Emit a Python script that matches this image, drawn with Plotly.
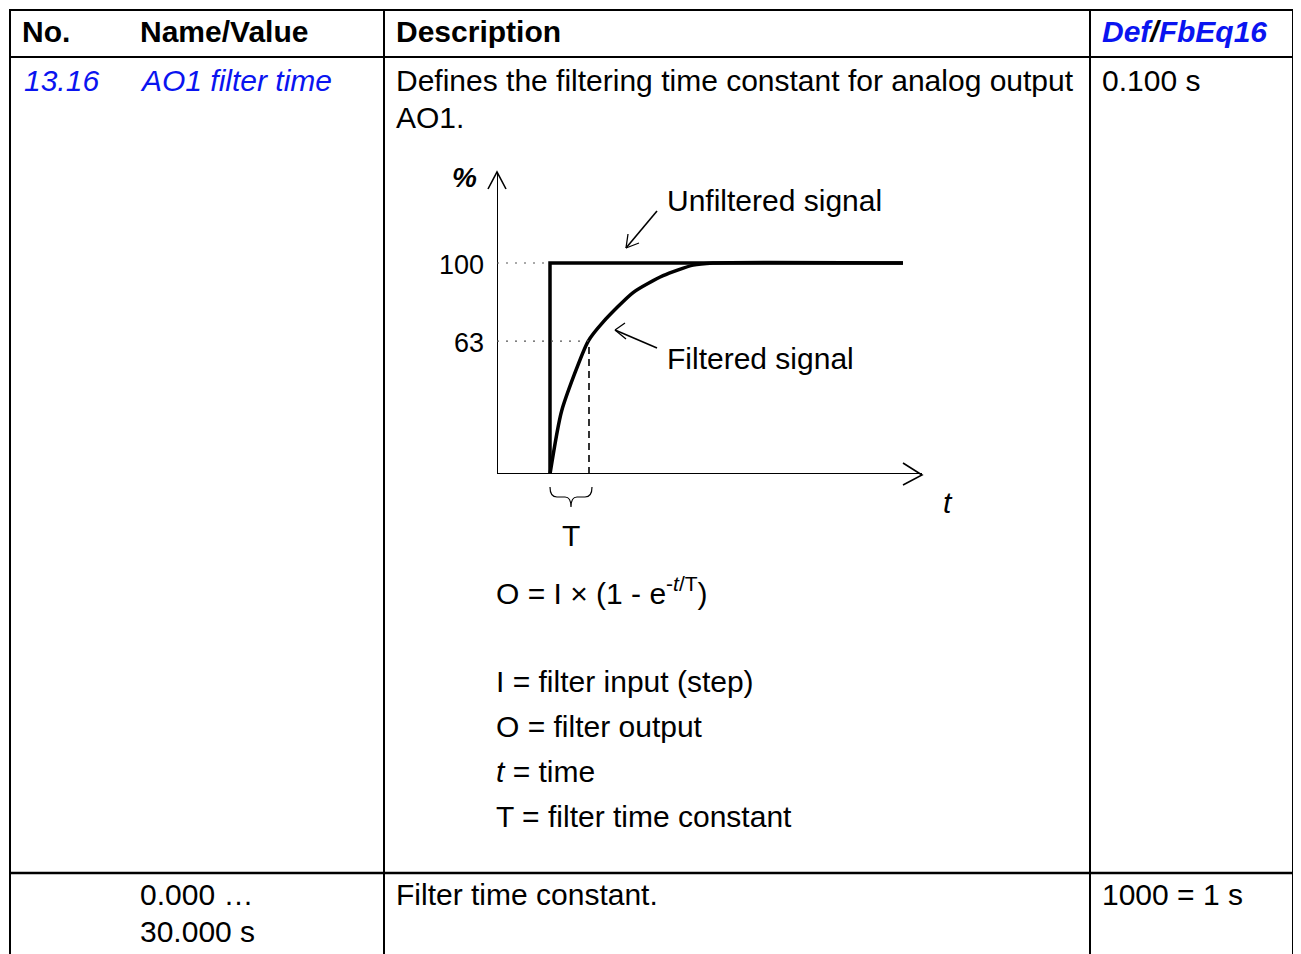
import plotly.graph_objects as go

W, H = 1301, 954
OFF = 8                     # page body margin
FW, FH = W - OFF, H - OFF   # figure size
FONT = "Liberation Sans, Arial, sans-serif"
BLUE = "#0A14F0"
FS = 30

# ---- table content ----
header_labels = ["No.", "Name/Value", "Description"]
header_x = [22, 140, 396]
param_no = "13.16"
param_name = "AO1 filter time"
desc_lines = ["Defines the filtering time constant for analog output", "AO1."]
default_value = "0.100 s"
range_lines = ["0.000 …", "30.000 s"]
range_desc = "Filter time constant."
fbeq = "1000 = 1 s"
legend_lines = ["I = filter input (step)", "O = filter output",
                "<i>t</i> = time", "T = filter time constant"]

# ---- diagram data (t in units of T, signal in %) ----
unf_t = [0, 0, 9.05]
unf_y = [0, 100, 100]
filt_t = [0, 0.3, 0.98, 1.36, 2.13, 2.9, 3.67, 4.18, 9.05]
filt_y = [0, 30, 63, 72, 86, 94, 99, 100, 100]
T_const = 1.0
level_63 = 63
level_100 = 100
y_ticks = [100, 63]

# diagram axes geometry (page pixels)
ox, oy = 497, 474          # origin
x_end, y_end = 922, 172    # arrow tips
px_per_t = 39.0
step_px = 550
px_per_pct = 2.11
x_rng = [(ox - step_px) / px_per_t, (x_end - step_px) / px_per_t]
y_rng = [0, (oy - y_end) / px_per_pct]

fig = go.Figure()
fig.add_trace(go.Scatter(x=[OFF, W], y=[OFF, H], mode="markers",
                         marker=dict(opacity=0), hoverinfo="skip", showlegend=False))
fig.add_trace(go.Scatter(x=unf_t, y=unf_y, mode="lines", xaxis="x2", yaxis="y2",
                         line=dict(color="black", width=3.5), hoverinfo="skip", showlegend=False))
fig.add_trace(go.Scatter(x=filt_t, y=filt_y, mode="lines", xaxis="x2", yaxis="y2",
                         line=dict(color="black", width=3.5, shape="spline", smoothing=0.6),
                         hoverinfo="skip", showlegend=False))

shapes = []
def L(x0, y0, x1, y1, w=2, ref=("x", "y"), dash=None, color="black"):
    d = dict(type="line", x0=x0, y0=y0, x1=x1, y1=y1, xref=ref[0], yref=ref[1],
             line=dict(color=color, width=w))
    if dash:
        d["line"]["dash"] = dash
    shapes.append(d)

# table lines
L(10, 10, 1293, 10)
L(10, 57, 1293, 57)
L(10, 873, 1293, 873, w=2.5)
for xv in [10, 384, 1090, 1293]:
    L(xv, 9, xv, H)

# diagram axes lines (data coords)
L(x_rng[0], 0, x_rng[1], 0, w=2, ref=("x2", "y2"))
L(x_rng[0], 0, x_rng[0], y_rng[1], w=2, ref=("x2", "y2"))
# guides
L(x_rng[0], level_100, 0, level_100, w=1.2, ref=("x2", "y2"), dash="2px,7px", color="#555")
L(x_rng[0], level_63, T_const, level_63, w=1.2, ref=("x2", "y2"), dash="2px,7px", color="#555")
L(T_const, 0, T_const, level_63, w=1.6, ref=("x2", "y2"), dash="7px,5px")

def P(path, w=1.6):
    shapes.append(dict(type="path", path=path, xref="x", yref="y",
                       line=dict(color="black", width=w)))
P(f"M488,189 L{ox},{y_end} L506,189")
P(f"M903,463 L{x_end},{oy+1} L903,485")
P("M657,211 L626,248")
P("M626,248 L628,234 M626,248 L639,243", w=1.3)
P("M657,348 L615,330")
P("M615,330 L625,323 M615,330 L626,339", w=1.3)
P("M550,487 Q550,497 557,497 L565,497 Q571,497 571,507 "
  "Q571,497 577,497 L585,497 Q592,497 592,487", w=1.2)

fig.update_layout(shapes=shapes)

ann = []
def A(x, y, text, size=FS, color="black", xa="left", bold=False, italic=False):
    if italic:
        text = f"<i>{text}</i>"
    if bold:
        text = f"<b>{text}</b>"
    ann.append(dict(x=x, y=y, xref="x", yref="y", text=text, showarrow=False,
                    xanchor=xa, yanchor="middle",
                    font=dict(family=FONT, size=size, color=color)))

for lab, xv in zip(header_labels, header_x):
    A(xv - 2, 31, lab, bold=True)
A(1100, 31, f"<span style='color:{BLUE}'>Def</span>/<span style='color:{BLUE}'>FbEq16</span>",
  bold=True, italic=True)
A(22, 80, param_no, color=BLUE, italic=True)
A(138, 80, param_name, color=BLUE, italic=True)
A(394, 80, desc_lines[0])
A(394, 117, desc_lines[1])
A(1100, 80, default_value)

A(464, 177, "%", size=28, bold=True, italic=True, xa="center")
for v in y_ticks:
    A(486, oy - v * px_per_pct + 2, str(v), size=27, xa="right")
A(665, 200, "Unfiltered signal")
A(665, 358, "Filtered signal")
A(571, 535, "T", xa="center")
A(948, 502, "t", italic=True, xa="center")
A(494, 591, "O = I × (1 - e<sup>-<i>t</i>/T</sup>)")
for i, t in enumerate(legend_lines):
    A(494, 681 + 45 * i, t)

A(138, 894, range_lines[0])
A(138, 931, range_lines[1])
A(394, 894, range_desc)
A(1100, 894, fbeq)

fig.update_layout(annotations=ann)

fig.update_layout(
    width=FW, height=FH, margin=dict(l=0, r=0, t=0, b=0),
    paper_bgcolor="white", plot_bgcolor="rgba(0,0,0,0)",
    xaxis=dict(range=[OFF, W], visible=False, domain=[0, 1], fixedrange=True),
    yaxis=dict(range=[H, OFF], visible=False, domain=[0, 1], fixedrange=True),
    xaxis2=dict(range=x_rng, domain=[(ox - OFF) / FW, (x_end - OFF) / FW], anchor="y2",
                visible=False, fixedrange=True),
    yaxis2=dict(range=y_rng, domain=[1 - (oy - OFF) / FH, 1 - (y_end - OFF) / FH], anchor="x2",
                visible=False, fixedrange=True),
    showlegend=False,
)

fig.write_html("out.html", config={"displayModeBar": False})
